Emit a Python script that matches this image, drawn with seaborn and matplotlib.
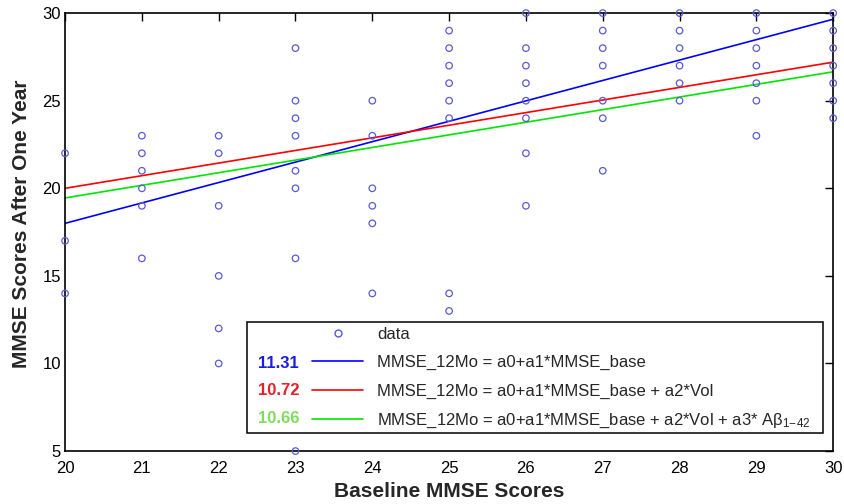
import pandas as pd
import matplotlib.pyplot as plt
import seaborn as sns
from matplotlib.lines import Line2D
from matplotlib.patches import Rectangle

# scatter data: baseline MMSE vs MMSE after 12 months
baseline = [20, 20, 20,
            21, 21, 21, 21, 21, 21,
            22, 22, 22, 22, 22, 22,
            23, 23, 23, 23, 23, 23, 23, 23,
            24, 24, 24, 24, 24, 24,
            25, 25, 25, 25, 25, 25, 25, 25,
            26, 26, 26, 26, 26, 26, 26, 26,
            27, 27, 27, 27, 27, 27, 27,
            28, 28, 28, 28, 28, 28,
            29, 29, 29, 29, 29, 29, 29,
            30, 30, 30, 30, 30, 30, 30]
followup = [22, 17, 14,
            23, 22, 21, 20, 19, 16,
            23, 22, 19, 15, 12, 10,
            28, 25, 24, 23, 21, 20, 16, 5,
            25, 23, 20, 19, 18, 14,
            29, 28, 27, 26, 25, 24, 14, 13,
            30, 28, 27, 26, 25, 24, 22, 19,
            30, 29, 28, 27, 25, 24, 21,
            30, 29, 28, 27, 26, 25,
            30, 29, 28, 27, 26, 25, 23,
            30, 29, 28, 27, 26, 25, 24]

# fitted model lines (end points) and their errors
fit_x = [20, 30]
fit_base = [18.0, 29.65]
fit_vol = [20.0, 27.2]
fit_vol_ab = [19.45, 26.65]
model_errors = ["11.31", "10.72", "10.66"]
model_labels = ["MMSE_12Mo = a0+a1*MMSE_base",
                "MMSE_12Mo = a0+a1*MMSE_base + a2*Vol",
                r"MMSE_12Mo = a0+a1*MMSE_base + a2*Vol + a3* A$\beta_{1\!-\!42}$"]

line_colors = ["#0000ff", "#ff0000", "#00e600"]
number_colors = ["#1c1ce0", "#e62028", "#7ede5c"]
marker_color = "#5a5ad2"

sns.set_style("white")
plt.rcParams["font.family"] = ["Liberation Sans", "DejaVu Sans"]
plt.rcParams["mathtext.fontset"] = "custom"
plt.rcParams["mathtext.rm"] = "Liberation Sans"
plt.rcParams["mathtext.it"] = "Liberation Sans"

fig = plt.figure(figsize=(8.45, 5.04), dpi=100)
ax = fig.add_axes([0.077, 0.105, 0.909, 0.869])

df = pd.DataFrame({"base": baseline, "m12": followup})
sns.scatterplot(data=df, x="base", y="m12", ax=ax, marker="o", s=22,
                facecolor="none", edgecolor=marker_color, linewidth=0.9,
                clip_on=False, zorder=3)

fits = pd.DataFrame({"x": fit_x * 3,
                     "y": fit_base + fit_vol + fit_vol_ab,
                     "model": [0, 0, 1, 1, 2, 2]})
for i in range(3):
    sub = fits[fits["model"] == i]
    sns.lineplot(data=sub, x="x", y="y", ax=ax, color=line_colors[i],
                 linewidth=1.2, zorder=2)

ax.set_xlim(20, 30)
ax.set_ylim(5, 30)
ax.set_xticks(range(20, 31))
ax.set_yticks(range(5, 31, 5))
ax.tick_params(direction="in", length=6, width=1, top=True, right=True,
               labelsize=12, pad=3, colors="black")
ax.tick_params(axis="x", pad=7)
for s in ax.spines.values():
    s.set_color("black")
    s.set_linewidth(1.2)
ax.set_xlabel("Baseline MMSE Scores", fontsize=15, fontweight="bold")
ax.set_ylabel("MMSE Scores After One Year", fontsize=15, fontweight="bold")
ax.xaxis.set_label_coords(0.5, -0.071)
ax.yaxis.set_label_coords(-0.044, 0.52)

# legend box with error values on the left
ax.add_patch(Rectangle((0.237, 0.041), 0.75, 0.2535, transform=ax.transAxes,
                       facecolor="white", edgecolor="black", linewidth=1.1,
                       zorder=5))
handles = [Line2D([], [], linestyle="none", marker="o", markersize=5,
                  markerfacecolor="none", markeredgecolor=marker_color)]
handles += [Line2D([], [], color=c, linewidth=1.2) for c in line_colors]
leg = ax.legend(handles, ["data"] + model_labels, loc="upper left",
                bbox_to_anchor=(0.3216, 0.284), frameon=False, fontsize=12,
                handlelength=3.05, handletextpad=0.84, labelspacing=0.8,
                borderpad=0, borderaxespad=0)
leg.set_zorder(6)
row_y = [0.201, 0.139, 0.075]
for i in range(3):
    ax.text(0.251, row_y[i], model_errors[i], transform=ax.transAxes,
            color=number_colors[i], fontsize=12, fontweight="bold",
            va="center", ha="left", zorder=7)

fig.savefig("out.png", dpi=100)
